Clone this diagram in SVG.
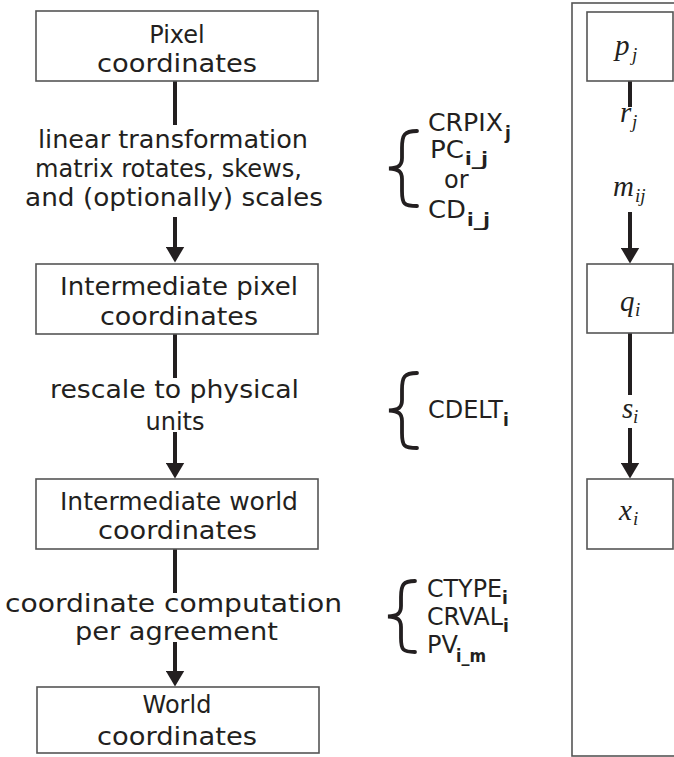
<svg xmlns="http://www.w3.org/2000/svg" width="674" height="757" viewBox="0 0 674 757">
<style>
.box{fill:#fff;stroke:#555;stroke-width:1.6}
.t{font-family:"DejaVu Sans","Liberation Sans",sans-serif;font-size:24px;fill:#231f20}
.c{font-family:"DejaVu Sans","Liberation Sans",sans-serif;font-size:24px;fill:#231f20;text-anchor:middle}
.k{font-family:"DejaVu Sans","Liberation Sans",sans-serif;font-size:24px;fill:#231f20}
.sub{font-family:"DejaVu Sans","Liberation Sans",sans-serif;font-size:17px;font-weight:bold;fill:#231f20}
.m{font-family:"Liberation Serif","DejaVu Serif",serif;font-style:italic;fill:#231f20}
.ln{stroke:#231f20;stroke-width:4;fill:none}
.br{stroke:#231f20;stroke-width:3.8;fill:none;stroke-linecap:round}
</style>
<defs>
<marker id="ah" viewBox="0 -9.5 16 19" markerWidth="16" markerHeight="19" refX="0.5" refY="0" orient="auto" markerUnits="userSpaceOnUse">
<path d="M0,-9.5 L16,0 L0,9.5 Z" fill="#231f20"/>
</marker>
</defs>
<rect width="674" height="757" fill="#fff"/>

<g id="connectors">
<line class="ln" x1="175" y1="81" x2="175" y2="125"/>
<line class="ln" x1="175" y1="217" x2="175" y2="247" marker-end="url(#ah)"/>
<line class="ln" x1="175" y1="334" x2="175" y2="378"/>
<line class="ln" x1="175" y1="432" x2="175" y2="463" marker-end="url(#ah)"/>
<line class="ln" x1="175" y1="549" x2="175" y2="593"/>
<line class="ln" x1="175" y1="642" x2="175" y2="671" marker-end="url(#ah)"/>
<line class="ln" x1="630" y1="81" x2="630" y2="107"/>
<line class="ln" x1="630" y1="212" x2="630" y2="248" marker-end="url(#ah)"/>
<line class="ln" x1="630" y1="333" x2="630" y2="395"/>
<line class="ln" x1="630" y1="428" x2="630" y2="463" marker-end="url(#ah)"/>
</g>

<g id="node-pixel">
<rect class="box" x="36" y="11" width="282" height="70"/>
<text class="c" x="177" y="43">Pixel</text>
<text class="t" x="97" y="72" textLength="160" lengthAdjust="spacingAndGlyphs">coordinates</text>
</g>

<g id="label-linear">
<text class="t" x="38" y="148" textLength="270" lengthAdjust="spacingAndGlyphs">linear transformation</text>
<text class="t" x="35" y="177" textLength="267" lengthAdjust="spacingAndGlyphs">matrix rotates, skews,</text>
<text class="t" x="25" y="206" textLength="298" lengthAdjust="spacingAndGlyphs">and (optionally) scales</text>
</g>

<g id="node-intermediate-pixel">
<rect class="box" x="36" y="264" width="282" height="70"/>
<text class="t" x="60" y="295" textLength="238" lengthAdjust="spacingAndGlyphs">Intermediate pixel</text>
<text class="t" x="100" y="325" textLength="158" lengthAdjust="spacingAndGlyphs">coordinates</text>
</g>

<g id="label-rescale">
<text class="t" x="50" y="398" textLength="249" lengthAdjust="spacingAndGlyphs">rescale to physical</text>
<text class="c" x="175" y="430">units</text>
</g>

<g id="node-intermediate-world">
<rect class="box" x="36" y="479" width="282" height="70"/>
<text class="t" x="60" y="510" textLength="238" lengthAdjust="spacingAndGlyphs">Intermediate world</text>
<text class="t" x="98" y="539" textLength="159" lengthAdjust="spacingAndGlyphs">coordinates</text>
</g>

<g id="label-coordinate">
<text class="t" x="5" y="612" textLength="337" lengthAdjust="spacingAndGlyphs">coordinate computation</text>
<text class="t" x="75" y="640" textLength="203" lengthAdjust="spacingAndGlyphs">per agreement</text>
</g>

<g id="node-world">
<rect class="box" x="37" y="687" width="282" height="66"/>
<text class="c" x="177" y="713">World</text>
<text class="t" x="97" y="745" textLength="160" lengthAdjust="spacingAndGlyphs">coordinates</text>
</g>

<g id="keywords-1">
<path class="br" d="M417,131 C404,131 402,135 402,148 L402,158 C402,165 399,168 389,168.5 C399,169 402,172 402,179 L402,191 C402,204 404,206 417,206"/>
<text class="k" x="428" y="131" textLength="75" lengthAdjust="spacingAndGlyphs">CRPIX</text>
<text class="sub" x="505" y="139">j</text>
<text class="k" x="430" y="158" textLength="34" lengthAdjust="spacingAndGlyphs">PC</text>
<text class="sub" x="465" y="165" textLength="23" lengthAdjust="spacingAndGlyphs">i_j</text>
<text class="k" x="444" y="188">or</text>
<text class="k" x="428" y="218" textLength="38" lengthAdjust="spacingAndGlyphs">CD</text>
<text class="sub" x="467" y="226" textLength="23" lengthAdjust="spacingAndGlyphs">i_j</text>
</g>

<g id="keywords-2">
<path class="br" d="M417,373 C404,373 402,377 402,390 L402,400 C402,407 399,410 389,410.5 C399,411 402,414 402,421 L402,433 C402,446 404,448 417,448"/>
<text class="k" x="428" y="418" textLength="75" lengthAdjust="spacingAndGlyphs">CDELT</text>
<text class="sub" x="503" y="426">i</text>
</g>

<g id="keywords-3">
<path class="br" d="M415,581 C403,581 401,585 401,597 L401,606 C401,613 398,616 388,616.5 C398,617 401,620 401,627 L401,638 C401,650 403,652 415,652"/>
<text class="k" x="427" y="597" textLength="75" lengthAdjust="spacingAndGlyphs">CTYPE</text>
<text class="sub" x="502" y="604">i</text>
<text class="k" x="427" y="625" textLength="76" lengthAdjust="spacingAndGlyphs">CRVAL</text>
<text class="sub" x="503" y="632">i</text>
<text class="k" x="427" y="653">PV</text>
<text class="sub" x="456" y="662" textLength="30" lengthAdjust="spacingAndGlyphs">i_m</text>
</g>

<g id="panel-math">
<rect x="572" y="3" width="110" height="753" fill="none" stroke="#555" stroke-width="1.6"/>
</g>

<g id="node-p">
<rect class="box" x="587" y="12" width="86" height="69"/>
<text class="m" x="615" y="55" font-size="29">p</text>
<text class="m" x="632" y="61" font-size="19">j</text>
</g>

<g id="label-r">
<text class="m" x="620" y="122" font-size="29">r</text>
<text class="m" x="632" y="128" font-size="19">j</text>
</g>

<g id="label-m">
<text class="m" x="613" y="196" font-size="29">m</text>
<text class="m" x="635" y="202" font-size="19">ij</text>
</g>

<g id="node-q">
<rect class="box" x="587" y="264" width="86" height="69"/>
<text class="m" x="620" y="311" font-size="29">q</text>
<text class="m" x="635" y="316" font-size="19">i</text>
</g>

<g id="label-s">
<text class="m" x="622" y="418" font-size="29">s</text>
<text class="m" x="633" y="423" font-size="19">i</text>
</g>

<g id="node-x">
<rect class="box" x="587" y="479" width="86" height="70"/>
<text class="m" x="619" y="520" font-size="29">x</text>
<text class="m" x="633" y="525" font-size="19">i</text>
</g>
</svg>
